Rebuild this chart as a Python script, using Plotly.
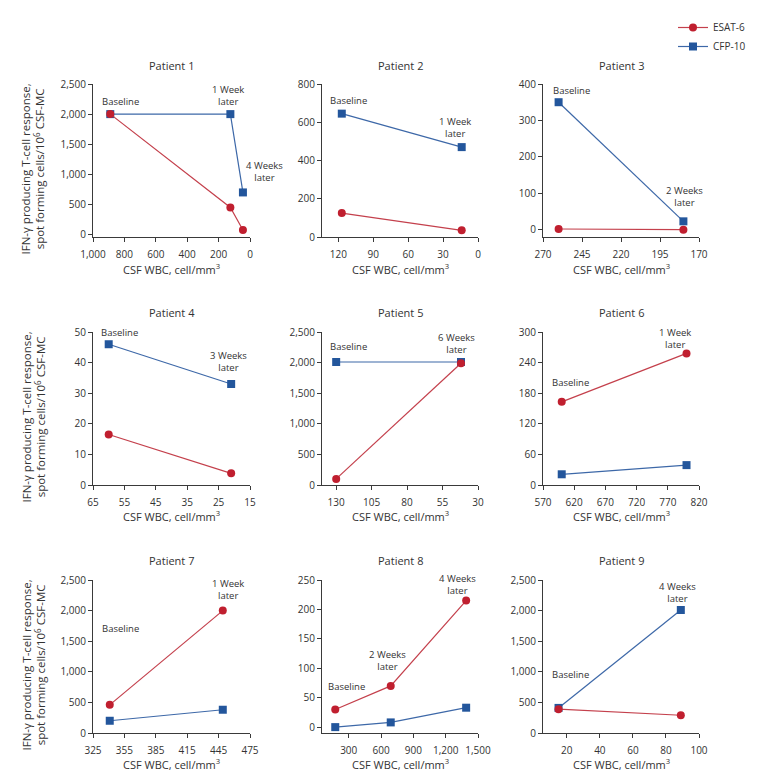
import plotly.graph_objects as go

# the page body adds an 8px margin around the figure
OFF = 8
W, H = 762 - 2 * OFF, 779 - 2 * OFF

# ---------------- data ----------------
p1_wbc = [890, 125, 45]
p1_esat = [2000, 450, 75]
p1_cfp = [2000, 2000, 700]

p2_wbc = [117, 14]
p2_esat = [125, 35]
p2_cfp = [645, 470]

p3_wbc = [260, 180]
p3_esat = [2, 0]
p3_cfp = [350, 23]

p4_wbc = [60, 21]
p4_esat = [16.5, 3.8]
p4_cfp = [46, 33]

p5_wbc = [130, 42]
p5_esat = [100, 1990]
p5_cfp = [2010, 2010]

p6_wbc = [600, 800]
p6_esat = [163, 258]
p6_cfp = [21, 39]

p7_wbc = [341, 449]
p7_esat = [460, 2000]
p7_cfp = [200, 380]

p8_wbc = [175, 690, 1390]
p8_esat = [30, 70, 215]
p8_cfp = [0, 8, 33]

p9_wbc = [15, 89]
p9_esat = [390, 290]
p9_cfp = [410, 2010]

# tick values
p1_xt = [1000, 800, 600, 400, 200, 0]; p1_yt = [0, 500, 1000, 1500, 2000, 2500]
p2_xt = [120, 90, 60, 30, 0];          p2_yt = [0, 200, 400, 600, 800]
p3_xt = [270, 245, 220, 195, 170];     p3_yt = [0, 100, 200, 300, 400]
p4_xt = [65, 55, 45, 35, 25, 15];      p4_yt = [0, 10, 20, 30, 40, 50]
p5_xt = [130, 105, 80, 55, 30];        p5_yt = [0, 500, 1000, 1500, 2000, 2500]
p6_xt = [570, 620, 670, 720, 770, 820]; p6_yt = [0, 60, 120, 180, 240, 300]
p7_xt = [325, 355, 385, 415, 445, 475]; p7_yt = [0, 500, 1000, 1500, 2000, 2500]
p8_xt = [300, 600, 900, 1200, 1500];   p8_yt = [0, 50, 100, 150, 200, 250]
p9_xt = [20, 40, 60, 80, 100];         p9_yt = [0, 500, 1000, 1500, 2000, 2500]

# time-point labels: (text, x, y) in data units
p1_lab = [("Baseline", 828, 2205), ("1 Week<br>later", 140, 2306)]
p2_lab = [("Baseline", 111, 716), ("1 Week<br>later", 20, 571)]
p3_lab = [("Baseline", 252, 381), ("2 Weeks<br>later", 179, 92)]
p4_lab = [("Baseline", 56.7, 49.8), ("3 Weeks<br>later", 22, 40.5)]
p5_lab = [("Baseline", 121, 2260), ("6 Weeks<br>later", 45.4, 2320)]
p6_lab = [("Baseline", 614, 201), ("1 Week<br>later", 781, 287)]
p7_lab = [("Baseline", 351, 1711), ("1 Week<br>later", 454, 2342)]
p8_lab = [("Baseline", 281, 68.5), ("2 Weeks<br>later", 658, 113), ("4 Weeks<br>later", 1312, 242)]
p9_lab = [("Baseline", 22, 958), ("4 Weeks<br>later", 87, 2289)]

panels = [
    dict(name="Patient 1", x=p1_wbc, e=p1_esat, c=p1_cfp, xr=[1000, 0], yr=[-40, 2500], xt=p1_xt, yt=p1_yt, lab=p1_lab),
    dict(name="Patient 2", x=p2_wbc, e=p2_esat, c=p2_cfp, xr=[134, 0], yr=[0, 800], xt=p2_xt, yt=p2_yt, lab=p2_lab),
    dict(name="Patient 3", x=p3_wbc, e=p3_esat, c=p3_cfp, xr=[270, 170], yr=[-20, 400], xt=p3_xt, yt=p3_yt, lab=p3_lab),
    dict(name="Patient 4", x=p4_wbc, e=p4_esat, c=p4_cfp, xr=[65, 15], yr=[0, 50], xt=p4_xt, yt=p4_yt, lab=p4_lab),
    dict(name="Patient 5", x=p5_wbc, e=p5_esat, c=p5_cfp, xr=[140, 30], yr=[0, 2500], xt=p5_xt, yt=p5_yt, lab=p5_lab),
    dict(name="Patient 6", x=p6_wbc, e=p6_esat, c=p6_cfp, xr=[570, 820], yr=[0, 300], xt=p6_xt, yt=p6_yt, lab=p6_lab),
    dict(name="Patient 7", x=p7_wbc, e=p7_esat, c=p7_cfp, xr=[325, 475], yr=[0, 2500], xt=p7_xt, yt=p7_yt, lab=p7_lab),
    dict(name="Patient 8", x=p8_wbc, e=p8_esat, c=p8_cfp, xr=[52, 1500], yr=[-10, 250], xt=p8_xt, yt=p8_yt, lab=p8_lab),
    dict(name="Patient 9", x=p9_wbc, e=p9_esat, c=p9_cfp, xr=[5.6, 100], yr=[0, 2500], xt=p9_xt, yt=p9_yt, lab=p9_lab),
]

# ---------------- layout geometry (page pixels) ----------------
cols = [(93, 250), (322, 478), (543, 699)]
rows = [(84, 237), (332, 485), (580, 733)]
title_y = [65, 313, 560]
xtitle_y = [269, 516, 764]

RED = "#c01f2f"
BLUE = "#23569c"
RED_LINE = "#c4404c"
BLUE_LINE = "#3d68a8"
TXT = "#333333"
FONT = "Open Sans"

def px(x):
    return (x - OFF) / W

def py(y):
    return 1 - (y - OFF) / H

fig = go.Figure()
layout = dict(
    width=W, height=H, margin=dict(l=0, r=0, t=0, b=0, pad=0, autoexpand=False),
    paper_bgcolor="white", plot_bgcolor="white",
    font=dict(family=FONT, size=10, color=TXT),
    showlegend=True,
    legend=dict(x=px(751), y=py(13), xanchor="right", yanchor="top",
                font=dict(size=10, color=TXT), itemwidth=30,
                bgcolor="rgba(0,0,0,0)", tracegroupgap=0),
)
annotations = []

for i, p in enumerate(panels):
    r, c = divmod(i, 3)
    n = "" if i == 0 else str(i + 1)
    xa, ya = "x" + n, "y" + n
    (x0, x1), (y0, y1) = cols[c], rows[r]
    axis_common = dict(showgrid=False, zeroline=False, showline=True, linecolor="#3a3a3a",
                       linewidth=1, ticks="outside", ticklen=4, tickcolor="#3a3a3a",
                       tickfont=dict(size=10, color=TXT), tickformat=",d", automargin=False)
    layout["xaxis" + n] = dict(domain=[px(x0), px(x1)], range=p["xr"], anchor=ya,
                               tickvals=p["xt"], ticklabelstandoff=4, **axis_common)
    layout["yaxis" + n] = dict(domain=[py(y1), py(y0)], range=p["yr"], anchor=xa,
                               tickvals=p["yt"], **axis_common)

    fig.add_trace(go.Scatter(x=p["x"], y=p["c"], xaxis=xa, yaxis=ya, mode="lines+markers",
                             name="CFP-10", legendgroup="cfp", legendrank=2, showlegend=(i == 0),
                             line=dict(color=BLUE_LINE, width=1.2),
                             marker=dict(symbol="square", size=8, color=BLUE), cliponaxis=False))
    fig.add_trace(go.Scatter(x=p["x"], y=p["e"], xaxis=xa, yaxis=ya, mode="lines+markers",
                             name="ESAT-6", legendgroup="esat", legendrank=1, showlegend=(i == 0),
                             line=dict(color=RED_LINE, width=1.2),
                             marker=dict(symbol="circle", size=8, color=RED), cliponaxis=False))

    for (t, lx, ly) in p["lab"]:
        annotations.append(dict(text=t, x=lx, y=ly, xref=xa, yref=ya, showarrow=False,
                                xanchor="center", yanchor="middle",
                                font=dict(size=9.5, color=TXT)))
    annotations.append(dict(text=p["name"], x=px((x0 + x1) / 2), y=py(title_y[r]),
                            xref="paper", yref="paper", showarrow=False,
                            xanchor="center", yanchor="middle", font=dict(size=11, color=TXT)))
    annotations.append(dict(text="CSF WBC, cell/mm<sup>3</sup>", x=px((x0 + x1) / 2), y=py(xtitle_y[r]),
                            xref="paper", yref="paper", showarrow=False,
                            xanchor="center", yanchor="middle", font=dict(size=11, color=TXT)))

# Patient 1 "4 Weeks later" label sits beyond the axis end
annotations.append(dict(text="4 Weeks<br>later", x=1.09, y=1043, xref="x domain", yref="y",
                        showarrow=False, xanchor="center", yanchor="middle",
                        font=dict(size=9.5, color=TXT)))

for r in range(3):
    y0, y1 = rows[r]
    annotations.append(dict(text="IFN-γ producing T-cell response,<br>spot forming cells/10<sup>6</sup> CSF-MC",
                            x=px(33), y=py((y0 + y1) / 2 + 9), xref="paper", yref="paper",
                            textangle=-90, showarrow=False, xanchor="center", yanchor="middle",
                            font=dict(size=11.5, color=TXT)))

layout["annotations"] = annotations
fig.update_layout(**layout)
fig.write_html("out.html")
